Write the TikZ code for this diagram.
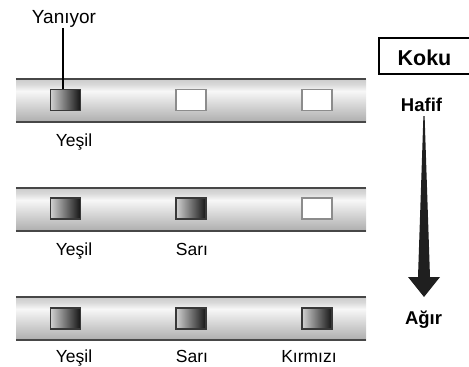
\documentclass[tikz,border=0pt]{standalone}
\usepackage{fontspec}
\setmainfont{Liberation Sans}
\definecolor{barA}{gray}{0.68}
\definecolor{barB}{gray}{0.97}
\definecolor{barC}{gray}{0.85}
\definecolor{barD}{gray}{0.80}
\definecolor{barline}{gray}{0.28}
\definecolor{sqL}{gray}{0.82}
\definecolor{sqR}{gray}{0.08}
\definecolor{sqedge}{gray}{0.22}
\definecolor{offedge}{gray}{0.55}
\definecolor{arrowc}{gray}{0.12}
\pgfdeclareverticalshading{barshade}{100bp}{color(0bp)=(barA); color(25bp)=(barA); color(61bp)=(barB); color(69bp)=(barC); color(75bp)=(barD); color(100bp)=(barD)}
\begin{document}
\begin{tikzpicture}[x=1pt,y=-1pt,
  bar/.style={shading=barshade, minimum width=350pt, minimum height=43pt, inner sep=0pt, draw=none},
  barrule/.style={draw=barline, line width=1.6pt},
  lamp/.style={minimum width=30pt, minimum height=21pt, inner sep=0pt},
  lampon/.style={lamp, left color=sqL, right color=sqR, draw=sqedge, line width=1.1pt},
  lampoff/.style={lamp, fill=white, draw=offedge, line width=1.4pt},
  lbl/.style={anchor=base, inner sep=0pt, font=\fontsize{17.5}{20}\selectfont},
  bold/.style={anchor=base, inner sep=0pt, font=\bfseries\fontsize{18.5}{21}\selectfont},
  ]
\useasboundingbox (0,0) rectangle (469,367);
% bars
\node[bar] (b1) at (191,100.5) {};
\node[bar] (b2) at (191,209.5) {};
\node[bar] (b3) at (191,318.5) {};
\foreach \b in {b1,b2,b3}{
  \draw[barrule] (\b.north west) -- (\b.north east);
  \draw[barrule] (\b.south west) -- (\b.south east);
}
% lamps
\node[lampon]  (s11) at (65.5,100) {};
\node[lampoff] (s12) at (191,100) {};
\node[lampoff] (s13) at (317,100) {};
\node[lampon]  (s21) at (65.5,208.5) {};
\node[lampon]  (s22) at (191,208.5) {};
\node[lampoff] (s23) at (317,208.5) {};
\node[lampon]  (s31) at (65.5,318.5) {};
\node[lampon]  (s32) at (191,318.5) {};
\node[lampon]  (s33) at (317,318.5) {};
% labels
\node[lbl] (l11) at (74,146.5) {Yeşil};
\node[lbl] (l21) at (74,255) {Yeşil};
\node[lbl] (l22) at (192,255) {Sarı};
\node[lbl] (l31) at (74,362) {Yeşil};
\node[lbl] (l32) at (192,362) {Sarı};
\node[lbl] (l33) at (309,362) {Kırmızı};
% Yaniyor
\node[anchor=base, inner sep=0pt, font=\fontsize{19}{22}\selectfont] (yan) at (64,23) {Yanıyor};
\coordinate (yanfoot) at (63,28);
\draw[line width=1.6pt, black] (yanfoot) -- (yanfoot |- s11.north);
% Koku box
\node[draw=black, line width=1.5pt, minimum width=94pt, minimum height=36pt, inner sep=0pt, anchor=north west] (kbox) at (378,37) {};
\node[anchor=base, inner sep=0pt, font=\bfseries\fontsize{21.5}{24}\selectfont] (koku) at (424.5,65) {Koku};
% scale
\node[bold] (hafif) at (421.5,111) {Hafif};
\node[bold] (agir) at (423.5,324) {Ağır};
\fill[arrowc] (423.4,116) -- (424.6,116) -- (430,277) -- (440,277) -- (424,297) -- (408,277) -- (418,277) -- cycle;
\end{tikzpicture}
\end{document}
